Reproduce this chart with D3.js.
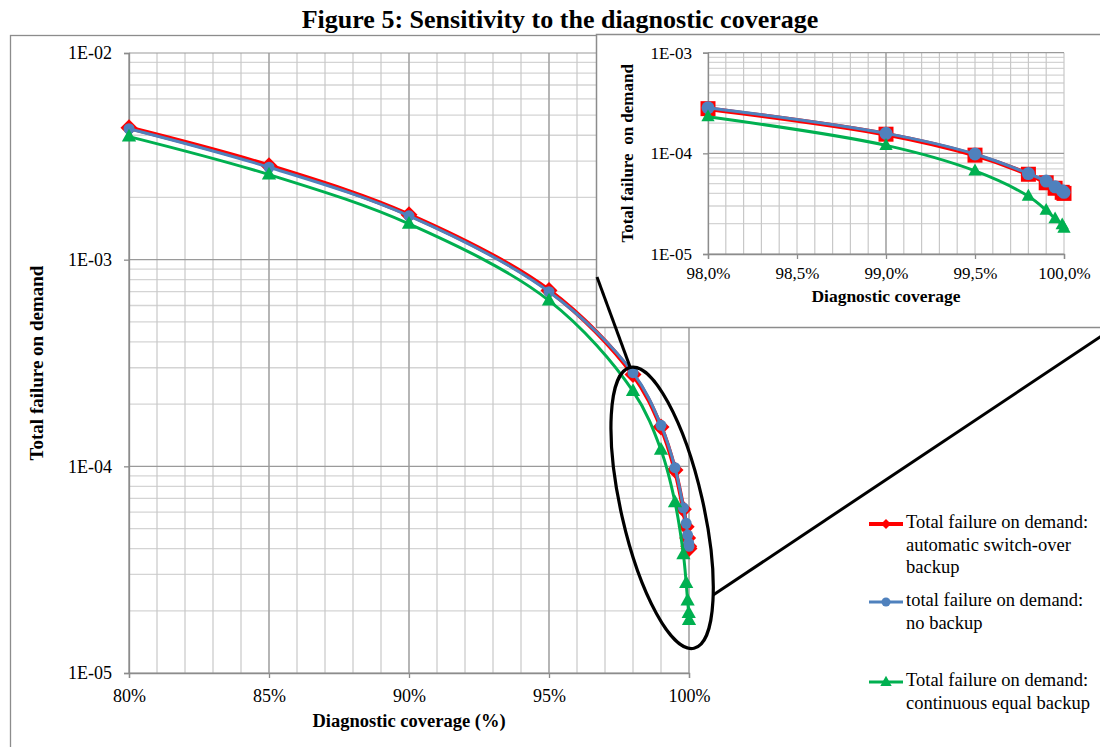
<!DOCTYPE html>
<html>
<head>
<meta charset="utf-8">
<script src="https://cdn.jsdelivr.net/npm/d3@7"></script>
<style>
  body { margin: 0; background: #fff; }
  text { font-family: "Liberation Serif", "Times New Roman", serif; fill: #000; }
</style>
</head>
<body>
<svg id="chart" width="1100" height="747"></svg>
<script>
// data
var coverage    = [80, 85, 90, 95, 98, 99, 99.5, 99.8, 99.9, 99.95, 99.99, 100];
var autoSwitch  = [4.35e-3, 2.85e-3, 1.65e-3, 7.1e-4, 2.78e-4, 1.55e-4, 9.6e-5, 6.2e-5, 5.1e-5, 4.5e-5, 4.1e-5, 4.0e-5];
var noBackup    = [4.3e-3, 2.8e-3, 1.63e-3, 7.0e-4, 2.84e-4, 1.58e-4, 9.85e-5, 6.3e-5, 5.3e-5, 4.65e-5, 4.25e-5, 4.1e-5];
var equalBackup = [3.94e-3, 2.58e-3, 1.49e-3, 6.34e-4, 2.31e-4, 1.2e-4, 6.7e-5, 3.75e-5, 2.72e-5, 2.24e-5, 1.95e-5, 1.8e-5];

var mainXTicks  = [80, 85, 90, 95, 100];
var mainYTicks  = [1e-5, 1e-4, 1e-3, 1e-2];
var insetXTicks = [98, 98.5, 99, 99.5, 100];
var insetYTicks = [1e-5, 1e-4, 1e-3];

var legendLabels = [
  ["Total failure on demand:", "automatic switch-over", "backup"],
  ["total failure on demand:", "no backup"],
  ["Total failure on demand:", "continuous equal backup"]
];

var series = [
  { values: autoSwitch,  color: "#FF0000", lw: 4.5, marker: "diamond", label: legendLabels[0] },
  { values: noBackup,    color: "#4F81BD", lw: 3,   marker: "circle",  label: legendLabels[1] },
  { values: equalBackup, color: "#00B050", lw: 3,   marker: "triangle", label: legendLabels[2] }
];

var svg = d3.select("#chart");
svg.append("rect").attr("width", 1100).attr("height", 747).attr("fill", "#fff");

// outer frame
svg.append("rect")
  .attr("x", 10.5).attr("y", 35.5).attr("width", 1110).attr("height", 730)
  .attr("fill", "none").attr("stroke", "#8c8c8c").attr("stroke-width", 1.3);

var fmtE = d => "1E-" + String(-Math.round(Math.log10(d))).padStart(2, "0");

function markerPath(type, r) {
  if (type === "diamond") return "M0," + (-r) + "L" + r + ",0L0," + r + "L" + (-r) + ",0Z";
  if (type === "square") return "M" + (-r) + "," + (-r) + "h" + 2 * r + "v" + 2 * r + "h" + (-2 * r) + "Z";
  if (type === "triangle") return "M0," + (-r * 1.05) + "L" + (r * 0.95) + "," + (r * 0.65) + "L" + (-r * 0.95) + "," + (r * 0.65) + "Z";
  return d3.arc()({ innerRadius: 0, outerRadius: r, startAngle: 0, endAngle: 2 * Math.PI });
}

function logGrid(g, x, y, xMinor, xMajor, yDomain) {
  var x0 = x.range()[0], x1 = x.range()[1];
  var yMinor = [];
  for (var k = Math.round(Math.log10(yDomain[0])); k < Math.round(Math.log10(yDomain[1])); k++) {
    for (var m = 2; m <= 9; m++) yMinor.push(m * Math.pow(10, k));
  }
  g.selectAll(".hmin").data(yMinor).join("line")
    .attr("x1", x0).attr("x2", x1).attr("y1", d => y(d)).attr("y2", d => y(d))
    .attr("stroke", "#d4d4d4").attr("stroke-width", 1.3);
  g.selectAll(".vmin").data(xMinor).join("line")
    .attr("x1", d => x(d)).attr("x2", d => x(d)).attr("y1", y.range()[0]).attr("y2", y.range()[1])
    .attr("stroke", "#c8c8c8").attr("stroke-width", 1.2);
  g.selectAll(".vmaj").data(xMajor).join("line")
    .attr("x1", d => x(d)).attr("x2", d => x(d)).attr("y1", y.range()[0]).attr("y2", y.range()[1])
    .attr("stroke", "#9a9a9a").attr("stroke-width", 1.2);
  var yMajor = d3.range(Math.round(Math.log10(yDomain[0])), Math.round(Math.log10(yDomain[1])) + 1).map(k => Math.pow(10, k));
  g.selectAll(".hmaj").data(yMajor).join("line")
    .attr("x1", x0).attr("x2", x1).attr("y1", d => y(d)).attr("y2", d => y(d))
    .attr("stroke", "#9a9a9a").attr("stroke-width", 1.2);
}

function styleAxis(sel, size) {
  sel.attr("font-family", "Liberation Serif, Times New Roman, serif");
  sel.selectAll("path, line").attr("stroke", "#8c8c8c").attr("stroke-width", 1.3);
  sel.selectAll("text").attr("font-size", size).attr("fill", "#000");
}

function drawSeries(g, x, y, idx, markers) {
  series.forEach(function (s) {
    var pts = idx.map(i => [coverage[i], s.values[i]]);
    var line = d3.line().x(d => x(d[0])).y(d => y(d[1])).curve(d3.curveCatmullRom.alpha(0.5));
    g.append("path").datum(pts).attr("d", line)
      .attr("fill", "none").attr("stroke", s.color).attr("stroke-width", s.lw)
      .attr("stroke-linejoin", "round");
    var mk = markers[s.marker];
    g.selectAll(null).data(pts).join("path")
      .attr("transform", d => "translate(" + x(d[0]) + "," + y(d[1]) + ")")
      .attr("d", markerPath(mk.type, mk.r))
      .attr("fill", s.color);
  });
}

// ---------- main plot ----------
var x = d3.scaleLinear().domain([80, 100]).range([129, 689]);
var y = d3.scaleLog().domain([1e-5, 1e-2]).range([673, 53]);

var main = svg.append("g");
logGrid(main, x, y, d3.range(80, 101, 1), mainXTicks, y.domain());

main.append("g").attr("transform", "translate(" + x.range()[0] + ",0)")
  .call(d3.axisLeft(y).tickValues(mainYTicks).tickFormat(fmtE).tickSize(5).tickPadding(12))
  .call(s => styleAxis(s, 18));
main.append("g").attr("transform", "translate(0," + y.range()[0] + ")")
  .call(d3.axisBottom(x).tickValues(mainXTicks).tickFormat(d => d + "%").tickSize(5).tickPadding(11))
  .call(s => styleAxis(s, 18));

drawSeries(main, x, y, d3.range(coverage.length), {
  diamond: { type: "diamond", r: 8.5 },
  circle: { type: "circle", r: 5.5 },
  triangle: { type: "triangle", r: 7.5 }
});

main.append("text").attr("x", (x.range()[0] + x.range()[1]) / 2).attr("y", 727)
  .attr("text-anchor", "middle").attr("font-size", 18.5).attr("font-weight", "bold")
  .text("Diagnostic coverage (%)");
main.append("text").attr("transform", "translate(43," + (y.range()[0] + y.range()[1]) / 2 + ") rotate(-90)")
  .attr("text-anchor", "middle").attr("font-size", 19).attr("font-weight", "bold")
  .text("Total failure on demand");

// zoom ellipse around the high-coverage points
var ell = { cx: x(99.04), cy: y(6.3e-5), a: 144, b: 41, phi: 12.8 };
function ellPoint(tDeg) {
  var t = tDeg * Math.PI / 180, p = ell.phi * Math.PI / 180;
  return [ell.cx + ell.b * Math.cos(t) * Math.cos(p) + ell.a * Math.sin(t) * Math.sin(p),
          ell.cy - ell.b * Math.cos(t) * Math.sin(p) + ell.a * Math.sin(t) * Math.cos(p)];
}
svg.append("ellipse")
  .attr("transform", "translate(" + ell.cx + "," + ell.cy + ") rotate(" + (-ell.phi) + ")")
  .attr("rx", ell.b).attr("ry", ell.a)
  .attr("fill", "none").attr("stroke", "#000").attr("stroke-width", 3.2);

var topPt = ellPoint(-90), rightPt = ellPoint(42);
svg.append("line").attr("x1", rightPt[0]).attr("y1", rightPt[1]).attr("x2", 1115).attr("y2", 327)
  .attr("stroke", "#000").attr("stroke-width", 3);

// ---------- inset ----------
svg.append("rect").attr("x", 596.5).attr("y", 34.5).attr("width", 520).attr("height", 293)
  .attr("fill", "#fff").attr("stroke", "#8c8c8c").attr("stroke-width", 1.5);

svg.append("line").attr("x1", 597).attr("y1", 277).attr("x2", topPt[0]).attr("y2", topPt[1])
  .attr("stroke", "#000").attr("stroke-width", 3);

var xi = d3.scaleLinear().domain([98, 100]).range([708, 1064]);
var yi = d3.scaleLog().domain([1e-5, 1e-3]).range([254, 52.7]);
var inset = svg.append("g");
logGrid(inset, xi, yi, d3.range(980, 1001).map(v => v / 10), [99], yi.domain());

inset.append("g").attr("transform", "translate(" + xi.range()[0] + ",0)")
  .call(d3.axisLeft(yi).tickValues(insetYTicks).tickFormat(fmtE).tickSize(5).tickPadding(11))
  .call(s => styleAxis(s, 17));
inset.append("g").attr("transform", "translate(0," + yi.range()[0] + ")")
  .call(d3.axisBottom(xi).tickValues(insetXTicks).tickFormat(d => d.toFixed(1).replace(".", ",") + "%").tickSize(5).tickPadding(8))
  .call(s => styleAxis(s, 17));

drawSeries(inset, xi, yi, d3.range(coverage.length).filter(i => coverage[i] >= 98), {
  diamond: { type: "square", r: 7.5 },
  circle: { type: "circle", r: 6.5 },
  triangle: { type: "triangle", r: 7 }
});

inset.append("text").attr("x", (xi.range()[0] + xi.range()[1]) / 2).attr("y", 302)
  .attr("text-anchor", "middle").attr("font-size", 17.5).attr("font-weight", "bold")
  .text("Diagnostic coverage");
inset.append("text").attr("transform", "translate(633," + (yi.range()[0] + yi.range()[1]) / 2 + ") rotate(-90)")
  .attr("text-anchor", "middle").attr("font-size", 17).attr("font-weight", "bold")
  .style("white-space", "pre")
  .text("Total failure  on demand");

// ---------- legend ----------
var legendY = [524, 602, 682];
var legendMk = { diamond: { type: "diamond", r: 5 }, circle: { type: "circle", r: 4.5 }, triangle: { type: "triangle", r: 6 } };
var legend = svg.append("g");
series.forEach(function (s, i) {
  var gy = legendY[i];
  legend.append("line").attr("x1", 869).attr("x2", 903).attr("y1", gy).attr("y2", gy)
    .attr("stroke", s.color).attr("stroke-width", s.marker === "diamond" ? 4 : 3);
  var mk = legendMk[s.marker];
  legend.append("path").attr("transform", "translate(886," + gy + ")")
    .attr("d", markerPath(mk.type, mk.r)).attr("fill", s.color);
  s.label.forEach(function (t, j) {
    legend.append("text").attr("x", 906).attr("y", gy + 4 + j * 22.5)
      .attr("font-size", 18.5).text(t);
  });
});

// title
svg.append("text").attr("x", 560).attr("y", 28).attr("text-anchor", "middle")
  .attr("font-size", 26).attr("font-weight", "bold")
  .text("Figure 5: Sensitivity to the diagnostic coverage");
</script>
</body>
</html>
